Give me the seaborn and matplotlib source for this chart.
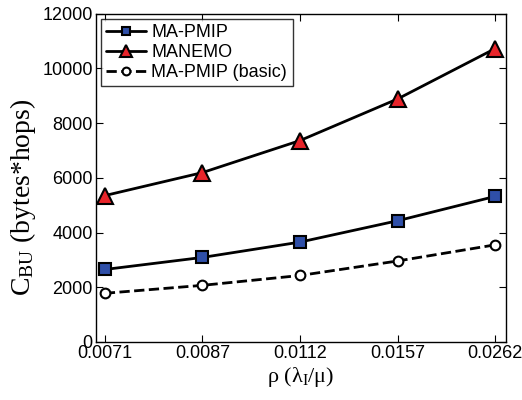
import numpy as np
import pandas as pd
import matplotlib
matplotlib.use("Agg")
import matplotlib.pyplot as plt
import seaborn as sns

# Valeurs
rho_labels = ["0.0071", "0.0087", "0.0112", "0.0157", "0.0262"]
ma_pmip = [2650, 3090, 3650, 4430, 5320]
manemo = [5350, 6190, 7360, 8880, 10720]
ma_pmip_basic = [1780, 2070, 2430, 2960, 3550]

sns.set_style("ticks", {"axes.edgecolor": "black", "text.color": "black",
                        "xtick.color": "black", "ytick.color": "black",
                        "axes.labelcolor": "black"})
plt.rcParams['font.family'] = ['Liberation Sans', 'DejaVu Sans']
plt.rcParams['mathtext.fontset'] = 'custom'
plt.rcParams['mathtext.rm'] = 'Liberation Serif'
plt.rcParams['mathtext.it'] = 'Liberation Serif'
plt.rcParams['mathtext.bf'] = 'Liberation Serif'

x = np.arange(len(rho_labels))
df = pd.DataFrame({"x": x, "MA-PMIP": ma_pmip, "MANEMO": manemo,
                   "MA-PMIP (basic)": ma_pmip_basic})

fig, ax = plt.subplots(figsize=(5.22, 4.0), dpi=100)

sns.lineplot(data=df, x="x", y="MA-PMIP", ax=ax, color="black", lw=2,
             marker="s", markersize=8, markerfacecolor="#2f4fa8",
             markeredgecolor="black", markeredgewidth=1.5, label="MA-PMIP")
sns.lineplot(data=df, x="x", y="MANEMO", ax=ax, color="black", lw=2,
             marker="^", markersize=11, markerfacecolor="#e8242a",
             markeredgecolor="black", markeredgewidth=1.5, label="MANEMO")
sns.lineplot(data=df, x="x", y="MA-PMIP (basic)", ax=ax, color="black", lw=2,
             linestyle="--", marker="o", markersize=7, markerfacecolor="white",
             markeredgecolor="black", markeredgewidth=1.5, label="MA-PMIP (basic)")

ax.set_xlim(-0.095, 4.11)
ax.set_ylim(0, 12000)
ax.set_xticks(x)
ax.set_xticklabels(rho_labels)
ax.set_yticks(np.arange(0, 12001, 2000))
ax.tick_params(direction="in", top=True, right=True, labelsize=13, length=5,
               pad=2, colors="black")
for s in ax.spines.values():
    s.set_linewidth(1.0)
    s.set_color("black")

ax.set_xlabel(r"ρ (λ$_\mathrm{I}$/μ)", fontsize=16, family="Liberation Serif",
              labelpad=2, color="black")
ax.set_ylabel(r"C$_\mathrm{BU}$ (bytes*hops)", fontsize=20,
              family="Liberation Serif", color="black")
ax.yaxis.set_label_coords(-0.14, 0.44)

leg = ax.legend(loc="upper left", fontsize=13, frameon=True, fancybox=False,
                edgecolor="black", handlelength=2.2, borderpad=0.3,
                labelspacing=0.15, handletextpad=0.3, borderaxespad=0.3,
                markerscale=0.8)
leg.get_frame().set_linewidth(1.0)
for t in leg.get_texts():
    t.set_color("black")

plt.subplots_adjust(left=0.183, right=0.969, top=0.966, bottom=0.145)
plt.savefig("out.png", dpi=100)
